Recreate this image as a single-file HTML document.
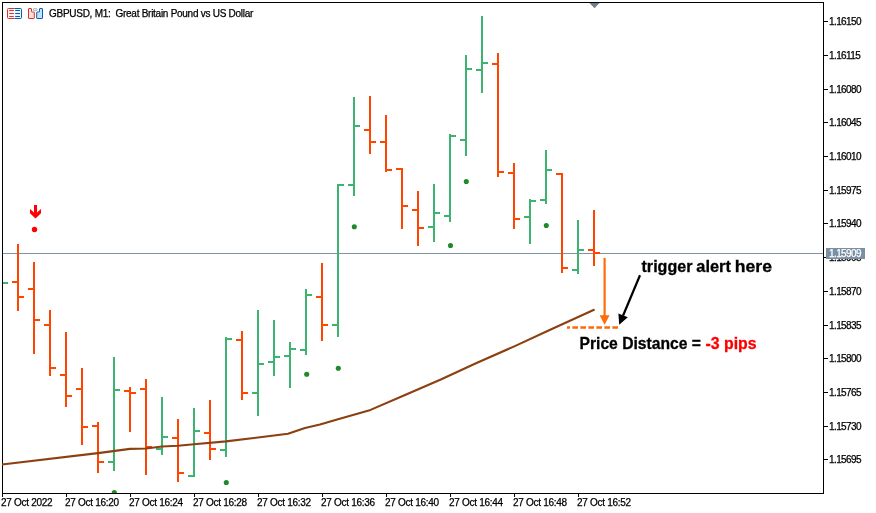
<!DOCTYPE html>
<html><head><meta charset="utf-8"><title>GBPUSD M1 chart</title>
<style>
html,body{margin:0;padding:0;background:#fff}
body{width:876px;height:513px;position:relative;overflow:hidden;font-family:"Liberation Sans",sans-serif;font-size:10px;color:#000}
.t{position:absolute;white-space:pre;line-height:10px;height:10px;-webkit-text-stroke:0.25px #000}
.yl{left:829px;letter-spacing:-0.600px}
.xl{top:498px;letter-spacing:-0.300px;margin-left:-1px}
#title{left:49px;top:9px;letter-spacing:-0.270px}
#bid{position:absolute;left:826px;top:248px;width:39px;height:11px;background:#7a8ea4}
#bidt{left:829px;top:249px;color:#fff;letter-spacing:-0.600px;-webkit-text-stroke:0.25px #fff}
</style></head><body>
<svg width="876" height="513" viewBox="0 0 876 513" style="position:absolute;left:0;top:0">
<g shape-rendering="crispEdges">
<rect x="3" y="253" width="820" height="1" fill="#7f93a8"/>
<rect x="2" y="2" width="822" height="1" fill="#000"/>
<rect x="2" y="2" width="1" height="492" fill="#000"/>
<rect x="823" y="2" width="1" height="492" fill="#000"/>
<rect x="2" y="493" width="822" height="1" fill="#000"/>
<rect x="824" y="21" width="4" height="1" fill="#000"/>
<rect x="824" y="55" width="4" height="1" fill="#000"/>
<rect x="824" y="89" width="4" height="1" fill="#000"/>
<rect x="824" y="122" width="4" height="1" fill="#000"/>
<rect x="824" y="156" width="4" height="1" fill="#000"/>
<rect x="824" y="190" width="4" height="1" fill="#000"/>
<rect x="824" y="223" width="4" height="1" fill="#000"/>
<rect x="824" y="257" width="4" height="1" fill="#000"/>
<rect x="824" y="291" width="4" height="1" fill="#000"/>
<rect x="824" y="325" width="4" height="1" fill="#000"/>
<rect x="824" y="358" width="4" height="1" fill="#000"/>
<rect x="824" y="392" width="4" height="1" fill="#000"/>
<rect x="824" y="426" width="4" height="1" fill="#000"/>
<rect x="824" y="459" width="4" height="1" fill="#000"/>
<rect x="2" y="494" width="1" height="3" fill="#000"/>
<rect x="66" y="494" width="1" height="3" fill="#000"/>
<rect x="130" y="494" width="1" height="3" fill="#000"/>
<rect x="194" y="494" width="1" height="3" fill="#000"/>
<rect x="258" y="494" width="1" height="3" fill="#000"/>
<rect x="322" y="494" width="1" height="3" fill="#000"/>
<rect x="386" y="494" width="1" height="3" fill="#000"/>
<rect x="450" y="494" width="1" height="3" fill="#000"/>
<rect x="514" y="494" width="1" height="3" fill="#000"/>
<rect x="578" y="494" width="1" height="3" fill="#000"/>
<rect x="3" y="282" width="5" height="2" fill="#3cb371"/>
<g fill="#ff4500"><rect x="17" y="244" width="2" height="67"/><rect x="12" y="281" width="5" height="2"/><rect x="19" y="296" width="5" height="2"/></g>
<g fill="#ff4500"><rect x="33" y="262" width="2" height="92"/><rect x="28" y="288" width="5" height="2"/><rect x="35" y="319" width="5" height="2"/></g>
<g fill="#ff4500"><rect x="49" y="310" width="2" height="66"/><rect x="44" y="324" width="5" height="2"/><rect x="51" y="367" width="5" height="2"/></g>
<g fill="#ff4500"><rect x="65" y="332" width="2" height="75"/><rect x="60" y="374" width="5" height="2"/><rect x="67" y="395" width="5" height="2"/></g>
<g fill="#ff4500"><rect x="81" y="368" width="2" height="77"/><rect x="76" y="388" width="5" height="2"/><rect x="83" y="426" width="5" height="2"/></g>
<g fill="#ff4500"><rect x="97" y="422" width="2" height="51"/><rect x="92" y="425" width="5" height="2"/><rect x="99" y="461" width="5" height="2"/></g>
<g fill="#3cb371"><rect x="113" y="357" width="2" height="114"/><rect x="108" y="461" width="5" height="2"/><rect x="115" y="389" width="5" height="2"/></g>
<g fill="#ff4500"><rect x="129" y="387" width="2" height="45"/><rect x="124" y="390" width="5" height="2"/><rect x="131" y="392" width="5" height="2"/></g>
<g fill="#ff4500"><rect x="145" y="379" width="2" height="96"/><rect x="140" y="388" width="5" height="2"/><rect x="147" y="446" width="5" height="2"/></g>
<g fill="#3cb371"><rect x="161" y="397" width="2" height="58"/><rect x="156" y="448" width="5" height="2"/><rect x="163" y="436" width="5" height="2"/></g>
<g fill="#ff4500"><rect x="177" y="419" width="2" height="63"/><rect x="172" y="437" width="5" height="2"/><rect x="179" y="472" width="5" height="2"/></g>
<g fill="#3cb371"><rect x="193" y="408" width="2" height="69"/><rect x="188" y="475" width="5" height="2"/><rect x="195" y="430" width="5" height="2"/></g>
<g fill="#ff4500"><rect x="209" y="400" width="2" height="60"/><rect x="204" y="432" width="5" height="2"/><rect x="211" y="448" width="5" height="2"/></g>
<g fill="#3cb371"><rect x="225" y="337" width="2" height="120"/><rect x="220" y="449" width="5" height="2"/><rect x="227" y="338" width="5" height="2"/></g>
<g fill="#ff4500"><rect x="241" y="331" width="2" height="69"/><rect x="236" y="339" width="5" height="2"/><rect x="243" y="392" width="5" height="2"/></g>
<g fill="#3cb371"><rect x="257" y="310" width="2" height="106"/><rect x="252" y="392" width="5" height="2"/><rect x="259" y="363" width="5" height="2"/></g>
<g fill="#3cb371"><rect x="273" y="320" width="2" height="56"/><rect x="268" y="361" width="5" height="2"/><rect x="275" y="356" width="5" height="2"/></g>
<g fill="#3cb371"><rect x="289" y="342" width="2" height="46"/><rect x="284" y="355" width="5" height="2"/><rect x="291" y="348" width="5" height="2"/></g>
<g fill="#3cb371"><rect x="305" y="289" width="2" height="66"/><rect x="300" y="349" width="5" height="2"/><rect x="307" y="294" width="5" height="2"/></g>
<g fill="#ff4500"><rect x="321" y="263" width="2" height="78"/><rect x="316" y="296" width="5" height="2"/><rect x="323" y="324" width="5" height="2"/></g>
<g fill="#3cb371"><rect x="337" y="184" width="2" height="153"/><rect x="332" y="324" width="5" height="2"/><rect x="339" y="184" width="5" height="2"/></g>
<g fill="#3cb371"><rect x="353" y="97" width="2" height="99"/><rect x="348" y="184" width="5" height="2"/><rect x="355" y="125" width="5" height="2"/></g>
<g fill="#ff4500"><rect x="369" y="96" width="2" height="58"/><rect x="364" y="129" width="5" height="2"/><rect x="371" y="141" width="5" height="2"/></g>
<g fill="#ff4500"><rect x="385" y="115" width="2" height="57"/><rect x="380" y="141" width="5" height="2"/><rect x="387" y="169" width="5" height="2"/></g>
<g fill="#ff4500"><rect x="401" y="168" width="2" height="61"/><rect x="396" y="168" width="5" height="2"/><rect x="403" y="205" width="5" height="2"/></g>
<g fill="#ff4500"><rect x="417" y="191" width="2" height="55"/><rect x="412" y="209" width="5" height="2"/><rect x="419" y="227" width="5" height="2"/></g>
<g fill="#3cb371"><rect x="433" y="184" width="2" height="58"/><rect x="428" y="226" width="5" height="2"/><rect x="435" y="212" width="5" height="2"/></g>
<g fill="#3cb371"><rect x="449" y="134" width="2" height="88"/><rect x="444" y="215" width="5" height="2"/><rect x="451" y="135" width="5" height="2"/></g>
<g fill="#3cb371"><rect x="465" y="55" width="2" height="101"/><rect x="460" y="139" width="5" height="2"/><rect x="467" y="68" width="5" height="2"/></g>
<g fill="#3cb371"><rect x="481" y="16" width="2" height="77"/><rect x="476" y="69" width="5" height="2"/><rect x="483" y="62" width="5" height="2"/></g>
<g fill="#ff4500"><rect x="497" y="53" width="2" height="124"/><rect x="492" y="63" width="5" height="2"/><rect x="499" y="171" width="5" height="2"/></g>
<g fill="#ff4500"><rect x="513" y="163" width="2" height="66"/><rect x="508" y="172" width="5" height="2"/><rect x="515" y="218" width="5" height="2"/></g>
<g fill="#3cb371"><rect x="529" y="199" width="2" height="45"/><rect x="524" y="216" width="5" height="2"/><rect x="531" y="200" width="5" height="2"/></g>
<g fill="#3cb371"><rect x="545" y="150" width="2" height="54"/><rect x="540" y="199" width="5" height="2"/><rect x="547" y="169" width="5" height="2"/></g>
<g fill="#ff4500"><rect x="561" y="173" width="2" height="100"/><rect x="556" y="173" width="5" height="2"/><rect x="563" y="267" width="5" height="2"/></g>
<g fill="#3cb371"><rect x="577" y="220" width="2" height="54"/><rect x="572" y="269" width="5" height="2"/><rect x="579" y="249" width="5" height="2"/></g>
<g fill="#ff4500"><rect x="593" y="210" width="2" height="56"/><rect x="588" y="249" width="5" height="2"/><rect x="595" y="252" width="5" height="2"/></g>
</g>
<clipPath id="cp"><rect x="3" y="3" width="820" height="490"/></clipPath><g clip-path="url(#cp)">
<circle cx="114.3" cy="492.5" r="2.550" fill="#1f8a2a"/>
<circle cx="226.3" cy="482.5" r="2.550" fill="#1f8a2a"/>
<circle cx="306.7" cy="374.3" r="2.550" fill="#1f8a2a"/>
<circle cx="338.3" cy="368.3" r="2.550" fill="#1f8a2a"/>
<circle cx="354.3" cy="226.7" r="2.550" fill="#1f8a2a"/>
<circle cx="450.5" cy="245.5" r="2.550" fill="#1f8a2a"/>
<circle cx="466.3" cy="181.5" r="2.550" fill="#1f8a2a"/>
<circle cx="546.3" cy="225.5" r="2.550" fill="#1f8a2a"/>
</g>
<polyline points="2,464.5 100,452.9 130,448.9 146,448.5 162,446.5 178,445.7 194,444.2 226,441.4 258,437.5 288,433.8 305,428 320,424.5 338,419.2 370.5,409.9 405.6,394.8 440.8,379.5 476,363.2 515.4,345.9 548,330.8 594.6,309.5" fill="none" stroke="#8a4010" stroke-width="2.100" stroke-linejoin="round"/>
<rect x="2" y="493" width="822" height="1" fill="#000" shape-rendering="crispEdges"/>
<polygon points="589.5,3 599.5,3 594.5,8.3" fill="#708090"/>
<polygon points="34,205 37,205 37,212.6 41,209 41,213.2 35.5,218.6 30,213.2 30,209 34,212.6" fill="#ff0000"/>
<circle cx="34.5" cy="229.5" r="2.7" fill="#ff0000"/>
<line x1="604.6" y1="258" x2="604.6" y2="316" stroke="#ff6a0a" stroke-width="2.2"/>
<polygon points="599.6,315.2 609.6,315.2 604.6,324.8" fill="#ff6a0a"/>
<line x1="618" y1="327.5" x2="567" y2="327.5" stroke="#ff6a0a" stroke-width="2.4" stroke-dasharray="5.6 2.4"/>
<line x1="640" y1="275.3" x2="623" y2="315.8" stroke="#000" stroke-width="2.2"/>
<polygon points="619.2,324.8 618.4,313.4 627.8,317.3" fill="#000"/>
<g fill="none" stroke-width="1">
<rect x="8" y="9" width="6.500" height="9" fill="#fff1ee"/><rect x="14.500" y="9" width="6.500" height="9" fill="#e6f2fd"/>
<path d="M14.500 8.500H8.500a1 1 0 0 0-1 1v8a1 1 0 0 0 1 1h6" stroke="#d8342e"/>
<path d="M14.500 8.500h6a1 1 0 0 1 1 1v8a1 1 0 0 1-1 1h-6" stroke="#0d5ca8"/>
<path d="M9.300 10.500h4.500M9.300 13.500h4.500M9.300 16.500h4.500" stroke="#d8342e"/>
<path d="M15.200 10.500h4.800M15.200 13.500h4.800M15.200 16.500h4.800" stroke="#0d5ca8"/>
<path d="M29 8.500h2a0.500 0.500 0 0 1 0.500 0.500v2.500a0.500 0.500 0 0 0 0.500 0.500h1.800a0.500 0.500 0 0 1 0.500 0.500v5.500a0.500 0.500 0 0 1-0.500 0.500h-4.800a0.500 0.500 0 0 1-0.500-0.500v-9a0.500 0.500 0 0 1 0.500-0.500z" stroke="#d8342e" fill="#fde0d9"/>
<path d="M42 8.500h-2a0.500 0.500 0 0 0-0.500 0.500v2.500a0.500 0.500 0 0 1-0.500 0.500h-1.800a0.500 0.500 0 0 0-0.500 0.500v5.500a0.500 0.500 0 0 0 0.500 0.500h4.800a0.500 0.500 0 0 0 0.500-0.500v-9a0.500 0.500 0 0 0-0.500-0.500z" stroke="#0d5ca8" fill="#c2e2fb"/>
<rect x="33.500" y="8.700" width="3.500" height="1.900" rx="0.600" stroke="#a0a0a0" stroke-width="0.900" fill="#fff"/>
</g>
<text y="271.7" font-family="'Liberation Sans',sans-serif" font-weight="bold" font-size="17" fill="#000" stroke="#000" stroke-width="0.300"><tspan x="641.5" textLength="51" lengthAdjust="spacingAndGlyphs">trigger</tspan> <tspan x="696.3" textLength="34.600" lengthAdjust="spacingAndGlyphs">alert</tspan> <tspan x="734.8" textLength="37.200" lengthAdjust="spacingAndGlyphs">here</tspan></text>
<text x="579.5" y="348.9" font-family="'Liberation Sans',sans-serif" font-weight="bold" font-size="16.5" textLength="121.500" lengthAdjust="spacingAndGlyphs" fill="#000" stroke="#000" stroke-width="0.300">Price Distance =</text>
<text x="705.5" y="348.9" font-family="'Liberation Sans',sans-serif" font-weight="bold" font-size="16.5" textLength="51" lengthAdjust="spacingAndGlyphs" fill="#ff0000" stroke="#ff0000" stroke-width="0.300">-3 pips</text>
</svg>
<div class="t" id="title">GBPUSD, M1:  Great Britain Pound vs US Dollar</div>
<div class="t yl" style="top:17px">1.16150</div>
<div class="t yl" style="top:51px">1.16115</div>
<div class="t yl" style="top:85px">1.16080</div>
<div class="t yl" style="top:118px">1.16045</div>
<div class="t yl" style="top:152px">1.16010</div>
<div class="t yl" style="top:186px">1.15975</div>
<div class="t yl" style="top:219px">1.15940</div>
<div class="t yl" style="top:253px">1.15905</div>
<div class="t yl" style="top:287px">1.15870</div>
<div class="t yl" style="top:321px">1.15835</div>
<div class="t yl" style="top:354px">1.15800</div>
<div class="t yl" style="top:388px">1.15765</div>
<div class="t yl" style="top:422px">1.15730</div>
<div class="t yl" style="top:455px">1.15695</div>
<div id="bid"></div><div class="t" id="bidt">1.15909</div>
<div class="t xl" style="left:2px">27 Oct 2022</div>
<div class="t xl" style="left:66px">27 Oct 16:20</div>
<div class="t xl" style="left:130px">27 Oct 16:24</div>
<div class="t xl" style="left:194px">27 Oct 16:28</div>
<div class="t xl" style="left:258px">27 Oct 16:32</div>
<div class="t xl" style="left:322px">27 Oct 16:36</div>
<div class="t xl" style="left:386px">27 Oct 16:40</div>
<div class="t xl" style="left:450px">27 Oct 16:44</div>
<div class="t xl" style="left:514px">27 Oct 16:48</div>
<div class="t xl" style="left:578px">27 Oct 16:52</div>
</body></html>
